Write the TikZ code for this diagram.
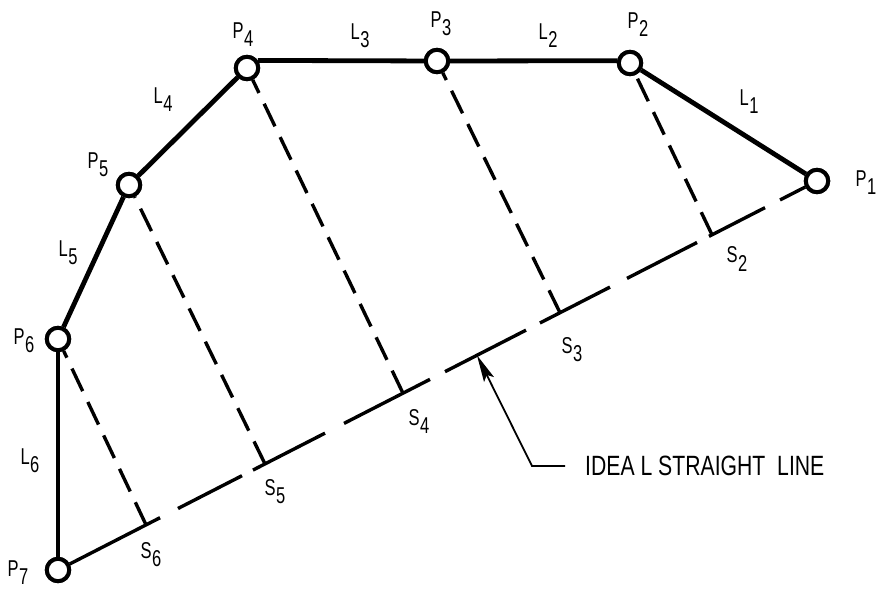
\documentclass[tikz,border=0pt]{standalone}
\usepackage{fontspec}
\setmainfont{Liberation Sans}[FakeStretch=0.72]
\newfontfamily\notefont{Liberation Sans}[FakeStretch=0.76]
\usetikzlibrary{calc,arrows.meta}
\newcommand\sublab[2]{#1\kern0.5bp\raisebox{-8bp}{#2}}
\begin{document}
\begin{tikzpicture}[x=1bp,y=-1bp,
  pt/.style={circle,draw,line width=4bp,minimum size=22.4bp,inner sep=0pt,fill=white},
  poly/.style={line width=4.8bp},
  perp/.style={line width=3.4bp,dash pattern=on 25bp off 12bp},
  ideal/.style={line width=3.4bp},
  lab/.style={inner sep=0pt,font=\fontsize{23}{23}\selectfont},
  note/.style={inner sep=0pt,anchor=west,font=\notefont\fontsize{28}{28}\selectfont}]
\useasboundingbox (0,0) rectangle (885,589);
% points
\node[pt] (P1) at (817,181) {};
\node[pt] (P2) at (630,63) {};
\node[pt] (P3) at (437,61) {};
\node[pt] (P4) at (247,68) {};
\node[pt] (P5) at (129,185) {};
\node[pt] (P6) at (58,339) {};
\node[pt] (P7) at (58,570) {};
% feet on ideal line
\coordinate (S6) at ($(P7.center)!0.116!(P1.center)$);
\coordinate (S5) at ($(P7.center)!0.2727!(P1.center)$);
\coordinate (S4) at ($(P7.center)!0.4545!(P1.center)$);
\coordinate (S3) at ($(P7.center)!0.6614!(P1.center)$);
\coordinate (S2) at ($(P7.center)!0.8617!(P1.center)$);
\coordinate (T) at ($(P7.center)!0.552!(P1.center)$);
% ideal line segments
\foreach \a/\b [count=\i] in {0.1581/0.2424,0.2569/0.3518,0.3768/0.4901,0.5099/0.6166,0.6350/0.7273,0.7497/0.8419,0.8577/0.9315}{
  \coordinate (a\i) at ($(P7.center)!\a!(P1.center)$);
  \coordinate (b\i) at ($(P7.center)!\b!(P1.center)$);
  \draw[ideal] (a\i) -- (b\i);
}
\coordinate (e0) at ($(P7.center)!0.1344!(P1.center)$);
\coordinate (s9) at ($(P7.center)!0.9513!(P1.center)$);
\draw[ideal] (P7) -- (e0);
\draw[ideal] (s9) -- (P1);
% perpendiculars
\draw[perp] (S6) -- (P6);
\draw[perp] (S5) -- (P5);
\draw[perp] (S4) -- (P4);
\draw[perp] (S3) -- (P3);
\draw[perp] (S2) -- (P2);
% polyline
\draw[poly] (P1) -- (P2);
\draw[poly] (P2.170) -- (P3);
\draw[poly] (P3) -- (P4.35);
\draw[poly] (P4) -- (P5);
\draw[poly] (P5) -- (P6);
\draw[poly] (P6) -- (P7);
% redraw circles on top
\foreach \n in {P1,P2,P3,P4,P5,P6,P7}{\node[pt] at (\n.center) {};}
% labels
\node[lab] (lP1) at (866,183) {\sublab{P}{1}};
\node[lab] (lP2) at (638,25) {\sublab{P}{2}};
\node[lab] (lP3) at (441,24) {\sublab{P}{3}};
\node[lab] (lP4) at (243,35) {\sublab{P}{4}};
\node[lab] (lP5) at (98,165) {\sublab{P}{5}};
\node[lab] (lP6) at (24,341) {\sublab{P}{6}};
\node[lab] (lP7) at (18,573) {\sublab{P}{7}};
\node[lab] (lL1) at (749,102) {\sublab{L}{1}};
\node[lab] (lL2) at (548,36) {\sublab{L}{2}};
\node[lab] (lL3) at (360,36) {\sublab{L}{3}};
\node[lab] (lL4) at (163,100) {\sublab{L}{4}};
\node[lab] (lL5) at (68,253) {\sublab{L}{5}};
\node[lab] (lL6) at (30,461) {\sublab{L}{6}};
\node[lab] (lS2) at (737,259) {\sublab{S}{2}};
\node[lab] (lS3) at (572,350) {\sublab{S}{3}};
\node[lab] (lS4) at (419,421) {\sublab{S}{4}};
\node[lab] (lS5) at (275,492) {\sublab{S}{5}};
\node[lab] (lS6) at (151,555) {\sublab{S}{6}};
% leader
\node[note] (ideal) at (585,466) {IDEA L STRAIGHT\ \ LINE};
\coordinate (A0) at (565,466);
\coordinate (A1) at (532,466);
\draw[line width=1.8bp,-{Stealth[length=27bp,width=11bp,inset=5bp]}] (A0) -- (A1) -- (T);
\end{tikzpicture}
\end{document}
